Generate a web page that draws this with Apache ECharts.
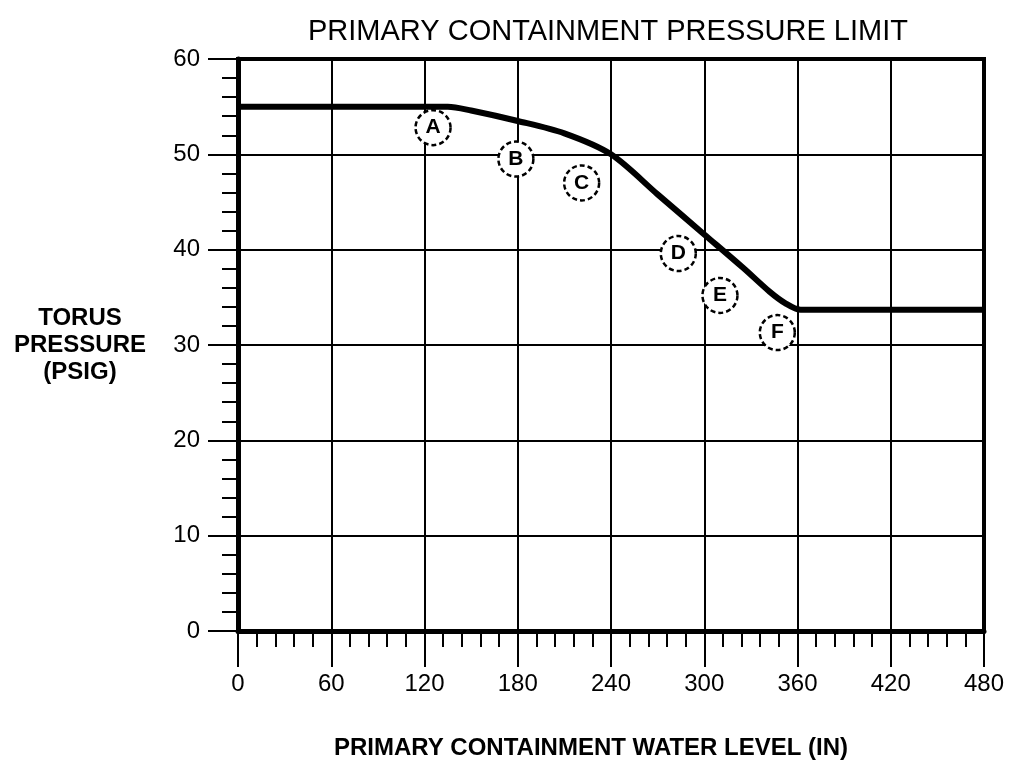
<!DOCTYPE html>
<html>
<head>
<meta charset="utf-8">
<script src="https://cdn.jsdelivr.net/npm/echarts@6/dist/echarts.min.js"></script>
<style>
  html, body { margin: 0; padding: 0; background: #fff; }
  #main { width: 1009px; height: 768px; }
</style>
</head>
<body>
<div id="main"></div>
<script>
// curve: torus pressure limit vs water level
const levelIn = [0, 135, 150, 180, 210, 240, 270, 300, 325, 342, 352, 362, 480];
const pressurePsig = [55, 55, 54.6, 53.5, 52.2, 50, 45.8, 41.6, 38.1, 35.6, 34.4, 33.7, 33.7];

// circled letters
const markLetters = ['A', 'B', 'C', 'D', 'E', 'F'];
const markX = [125.5, 178.8, 221.1, 283.3, 310.1, 347.0];
const markY = [52.8, 49.5, 47.0, 39.6, 35.2, 31.3];

const font = "'Liberation Sans', Arial, sans-serif";

const chart = echarts.init(document.getElementById('main'));

const option = {
  backgroundColor: '#fff',
  animation: false,
  title: {
    text: 'PRIMARY CONTAINMENT PRESSURE LIMIT',
    left: 603,
    top: 12,
    textAlign: 'center',
    textStyle: { fontFamily: font, fontSize: 29, fontWeight: 'normal', color: '#000' }
  },
  grid: {
    left: 238, right: 25, top: 59, bottom: 137,
    show: true, borderColor: '#000', borderWidth: 4
  },
  xAxis: {
    type: 'value',
    min: 0, max: 480, interval: 60,
    name: 'PRIMARY CONTAINMENT WATER LEVEL (IN)',
    nameLocation: 'middle',
    nameGap: 117,
    nameTextStyle: {
      fontFamily: font, fontSize: 24, fontWeight: 'bold', color: '#000',
      verticalAlign: 'middle', padding: [0, 40, 0, 0]
    },
    axisLine: { lineStyle: { color: '#000', width: 5 } },
    axisTick: { length: 36, lineStyle: { color: '#000', width: 2 } },
    minorTick: { show: true, splitNumber: 5, length: 16, lineStyle: { color: '#000', width: 2 } },
    axisLabel: { margin: 41, fontFamily: font, fontSize: 24, color: '#000' },
    splitLine: { lineStyle: { color: '#000', width: 2 } }
  },
  yAxis: {
    type: 'value',
    min: 0, max: 60, interval: 10,
    name: 'TORUS\nPRESSURE\n(PSIG)',
    nameLocation: 'middle',
    nameRotate: 0,
    nameGap: 158,
    nameTextStyle: {
      fontFamily: font, fontSize: 24, fontWeight: 'bold', color: '#000',
      align: 'center', verticalAlign: 'middle', lineHeight: 27
    },
    axisLine: { show: true, lineStyle: { color: '#000', width: 5 } },
    axisTick: { show: true, length: 30, lineStyle: { color: '#000', width: 2 } },
    minorTick: { show: true, splitNumber: 5, length: 16, lineStyle: { color: '#000', width: 2 } },
    axisLabel: { margin: 38, fontFamily: font, fontSize: 24, color: '#000' },
    splitLine: { lineStyle: { color: '#000', width: 2 } }
  },
  series: [
    {
      type: 'line',
      data: levelIn.map((x, i) => [x, pressurePsig[i]]),
      symbol: 'none',
      smooth: 0.3,
      lineStyle: { color: '#000', width: 6 },
      z: 3
    },
    {
      type: 'scatter',
      data: markX.map((x, i) => ({ value: [x, markY[i]], name: markLetters[i] })),
      symbol: 'circle',
      symbolSize: 35,
      itemStyle: { color: '#fff', opacity: 1, borderColor: '#000', borderWidth: 2.5, borderType: [5, 3] },
      label: {
        show: true, position: 'inside', formatter: '{b}',
        fontFamily: font, fontSize: 21, fontWeight: 'bold', color: '#000'
      },
      z: 4
    }
  ]
};

chart.setOption(option);
</script>
</body>
</html>
